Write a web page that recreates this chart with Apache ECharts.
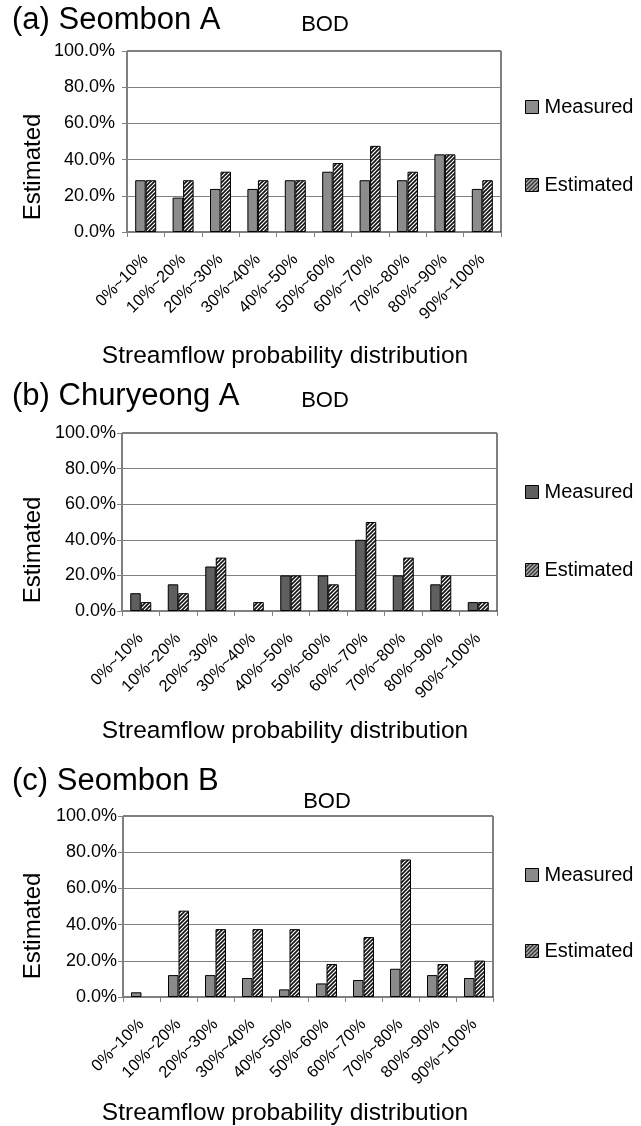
<!DOCTYPE html>
<html>
<head>
<meta charset="utf-8">
<title>BOD streamflow probability distribution</title>
<script src="https://cdn.jsdelivr.net/npm/echarts@6/dist/echarts.min.js"></script>
<style>
  html, body { margin: 0; padding: 0; background: #fff; }
  #chart { width: 641px; height: 1126px; }
</style>
</head>
<body>
<div id="chart"></div>
<script>
// Flow-duration classes shared by the three panels
const categories = ['0%~10%', '10%~20%', '20%~30%', '30%~40%', '40%~50%',
                    '50%~60%', '60%~70%', '70%~80%', '80%~90%', '90%~100%'];

// (a) Seombon A
const measuredA  = [28.6, 19.0, 23.8, 23.8, 28.6, 33.3, 28.6, 28.6, 42.9, 23.8];
const estimatedA = [28.6, 28.6, 33.3, 28.6, 28.6, 38.1, 47.6, 33.3, 42.9, 28.6];

// (b) Churyeong A
const measuredB  = [10, 15, 25, 0, 20, 20, 40, 20, 15, 5];
const estimatedB = [5, 10, 30, 5, 20, 15, 50, 30, 20, 5];

// (c) Seombon B
const measuredC  = [2.6, 12.1, 12.1, 10.5, 4.2, 7.5, 9.4, 15.6, 12.1, 10.5];
const estimatedC = [0, 47.7, 37.5, 37.5, 37.5, 18.2, 33.1, 76.0, 18.2, 20.1];

const panelTitles = ['(a) Seombon A', '(b) Churyeong A', '(c) Seombon B'];
const seriesNames = ['Measured', 'Estimated'];
const yAxisName = 'Estimated';
const xAxisName = 'Streamflow probability distribution';
const subTitle = 'BOD';

const FONT = '"Liberation Sans", Arial, Helvetica, sans-serif';

// diagonal hatch used for the estimated bars
function hatchPattern() {
  const s = 4;
  const c = document.createElement('canvas');
  c.width = s; c.height = s;
  const g = c.getContext('2d');
  g.fillStyle = '#ffffff';
  g.fillRect(0, 0, s, s);
  g.strokeStyle = '#111111';
  g.lineWidth = 1.6;
  g.beginPath();
  g.moveTo(0, s); g.lineTo(s, 0);
  g.moveTo(-1, 1); g.lineTo(1, -1);
  g.moveTo(s - 1, s + 1); g.lineTo(s + 1, s - 1);
  g.stroke();
  return c;
}
const hatch = { image: hatchPattern(), repeat: 'repeat' };

// an empty class draws no bar at all
const asBars = arr => arr.map(v => (v === 0 ? '-' : v));

// panel layout
const panels = [
  { grid: { left: 127, top: 51, width: 374, height: 181 }, labelMargin: 12,
    measured: measuredA, estimated: estimatedA, color: '#8c8c8c',
    titleY: 20, bodX: 325, bodY: 25, yNameY: 167, xNameY: 356, legY: [103, 181] },
  { grid: { left: 122, top: 433, width: 375, height: 178 }, labelMargin: 6,
    measured: measuredB, estimated: estimatedB, color: '#5f5f5f',
    titleY: 396, bodX: 325, bodY: 401, yNameY: 550, xNameY: 731, legY: [488, 566] },
  { grid: { left: 123, top: 816, width: 370, height: 181 }, labelMargin: 6,
    measured: measuredC, estimated: estimatedC, color: '#8a8a8a',
    titleY: 781, bodX: 327, bodY: 802, yNameY: 926, xNameY: 1113, legY: [871, 947] }
];

const grids = [], xAxes = [], yAxes = [], series = [], legends = [], graphics = [];

panels.forEach((p, i) => {
  grids.push(Object.assign({ show: true, borderColor: '#000', borderWidth: 1, backgroundColor: '#fff' }, p.grid));

  xAxes.push({
    type: 'category', gridIndex: i, data: categories,
    axisLine: { lineStyle: { color: '#808080', width: 1 } },
    axisTick: { show: true, length: 5, alignWithLabel: false, lineStyle: { color: '#808080' } },
    axisLabel: { interval: 0, rotate: 45, margin: 25, color: '#000', fontFamily: FONT, fontSize: 16.5 },
    splitLine: { show: false }
  });

  yAxes.push({
    type: 'value', gridIndex: i, min: 0, max: 100, interval: 20,
    axisLine: { show: true, lineStyle: { color: '#808080', width: 1 } },
    axisTick: { show: true, length: 5, lineStyle: { color: '#808080' } },
    axisLabel: { margin: p.labelMargin, color: '#000', fontFamily: FONT, fontSize: 18,
                 formatter: v => v.toFixed(1) + '%' },
    splitLine: { show: true, lineStyle: { color: '#808080', width: 1 } }
  });

  series.push({
    name: seriesNames[0], type: 'bar', xAxisIndex: i, yAxisIndex: i, data: asBars(p.measured),
    barWidth: 10.5, barGap: '0%',
    itemStyle: { color: p.color, borderColor: '#000', borderWidth: 1 }
  });
  series.push({
    name: seriesNames[1], type: 'bar', xAxisIndex: i, yAxisIndex: i, data: asBars(p.estimated),
    barWidth: 10.5, barGap: '0%',
    itemStyle: { color: hatch, borderColor: '#000', borderWidth: 1 }
  });

  [0, 1].forEach(k => {
    legends.push({
      left: 520, top: p.legY[k] - 11, orient: 'vertical', selectedMode: false,
      icon: 'rect', itemWidth: 13, itemHeight: 13, itemGap: 0,
      textStyle: { fontFamily: FONT, fontSize: 20, color: '#000', padding: [0, 0, 0, 1] },
      data: [{ name: seriesNames[k],
               itemStyle: k === 0 ? { color: p.color, borderColor: '#000', borderWidth: 1 }
                                  : { color: hatch, borderColor: '#000', borderWidth: 1 } }]
    });
  });

  graphics.push({ type: 'text', x: 12, y: p.titleY,
    style: { text: panelTitles[i], font: '31px ' + FONT, fill: '#000', textAlign: 'left', textVerticalAlign: 'middle' } });
  graphics.push({ type: 'text', x: p.bodX, y: p.bodY,
    style: { text: subTitle, font: '22px ' + FONT, fill: '#000', textAlign: 'center', textVerticalAlign: 'middle' } });
  graphics.push({ type: 'text', x: 33, y: p.yNameY, rotation: Math.PI / 2,
    style: { text: yAxisName, font: '24px ' + FONT, fill: '#000', textAlign: 'center', textVerticalAlign: 'middle' } });
  graphics.push({ type: 'text', x: 285, y: p.xNameY,
    style: { text: xAxisName, font: '24.5px ' + FONT, fill: '#000', textAlign: 'center', textVerticalAlign: 'middle' } });
});

const chart = echarts.init(document.getElementById('chart'), null, { renderer: 'canvas' });
chart.setOption({
  animation: false,
  backgroundColor: '#fff',
  grid: grids,
  xAxis: xAxes,
  yAxis: yAxes,
  legend: legends,
  series: series,
  graphic: graphics
});
</script>
</body>
</html>
